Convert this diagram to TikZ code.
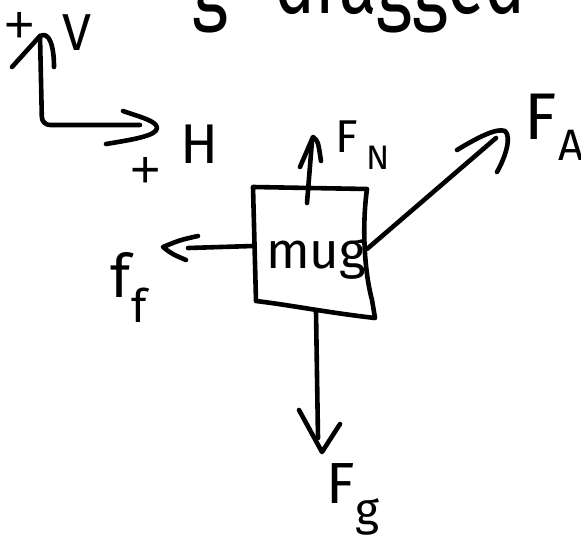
\documentclass[tikz,border=0pt]{standalone}
\usepackage{fontspec}
\setmainfont{Fira Sans}
\newfontfamily\condfont[FakeStretch=0.75]{Fira Sans}
\newfontfamily\plusfont{Liberation Sans}
\newcommand\hsz[1]{\fontsize{#1}{#1}\selectfont}
\begin{document}
\begin{tikzpicture}[x=1pt,y=-1pt,
  pen/.style={draw=black,line width=4.6pt,line cap=round,line join=round},
  lbl/.style={anchor=base west,inner sep=0pt,outer sep=0pt,text=black},
  plus/.style={anchor=center,inner sep=0pt,outer sep=0pt,text=black,font=\plusfont\hsz{52}}]
\useasboundingbox (0,0) rectangle (581,538);
\fill[white] (0,0) rectangle (581,538);
% cropped title at the top
\node[lbl,font=\condfont\hsz{92}] (tg) at (192,13) {g};
\node[lbl,font=\condfont\hsz{92}] (tdr) at (274,13) {dragged};
% axes
\coordinate (O) at (42,125);
\coordinate (Vtip) at (40,36);
\coordinate (Hend) at (140,125);
\draw[pen,rounded corners=8pt] (Vtip) -- (O) -- (Hend);
\draw[pen] (12,67) -- (Vtip) .. controls (49,31) and (54,45) .. (54,67);
\draw[pen] (123,111) .. controls (140,117) and (157,121) .. (157,128) .. controls (157,136) and (130,140) .. (106,144);
\node[plus] (plusV) at (20,27) {+};
\node[lbl,font=\hsz{52}] (V) at (62,50) {V};
\node[lbl,font=\hsz{56}] (H) at (180,163) {H};
\node[plus] (plusH) at (146,172) {+};
% box
\coordinate (TL) at (253,187);
\coordinate (TR) at (367,189);
\coordinate (BR) at (375,318);
\coordinate (BL) at (256,301);
\draw[pen] (BL) -- (TL) -- (TR) .. controls (362,225) and (364,270) .. (372,300) -- (BR) .. controls (330,313) and (290,305) .. (BL);
\node[lbl,font=\hsz{51}] (mug) at (266,268) {mug};
% normal force
\coordinate (NB) at (307,203);
\coordinate (NT) at (312,141);
\draw[pen] (NB) -- (NT);
\draw[pen] (300,167) -- (313,137) .. controls (318,141) .. (321,161);
\node[lbl,font=\hsz{46}] (FN) at (335,152) {F};
\node[lbl,font=\hsz{34}] (FNs) at (366,169) {N};
% applied force
\coordinate (AB) at (367,249);
\coordinate (AT) at (496,138);
\draw[pen] (AB) -- (AT);
\draw[pen] (457,150) .. controls (480,136) and (497,128) .. (505,131) .. controls (512,137) and (505,158) .. (497,172);
\node[lbl,font=\hsz{66}] (FA) at (524,139) {F};
\node[lbl,font=\hsz{44}] (FAs) at (558,160) {A};
% friction
\coordinate (fB) at (253,246);
\coordinate (fT) at (188,248);
\draw[pen] (fB) -- (fT);
\draw[pen] (198,236) .. controls (180,240) .. (163,247) .. controls (172,254) .. (186,260);
\node[lbl,font=\hsz{60}] (ff) at (110,297) {f};
\node[lbl,font=\hsz{46}] (ffs) at (131,322) {f};
% gravity
\coordinate (gB) at (316,311);
\coordinate (gT) at (318,438);
\draw[pen] (gB) -- (gT);
\draw[pen] (299,410) -- (322,452) -- (340,424);
\node[lbl,font=\hsz{58}] (Fg) at (326,503) {F};
\node[lbl,font=\hsz{46}] (Fgs) at (355,525) {g};
\end{tikzpicture}
\end{document}
